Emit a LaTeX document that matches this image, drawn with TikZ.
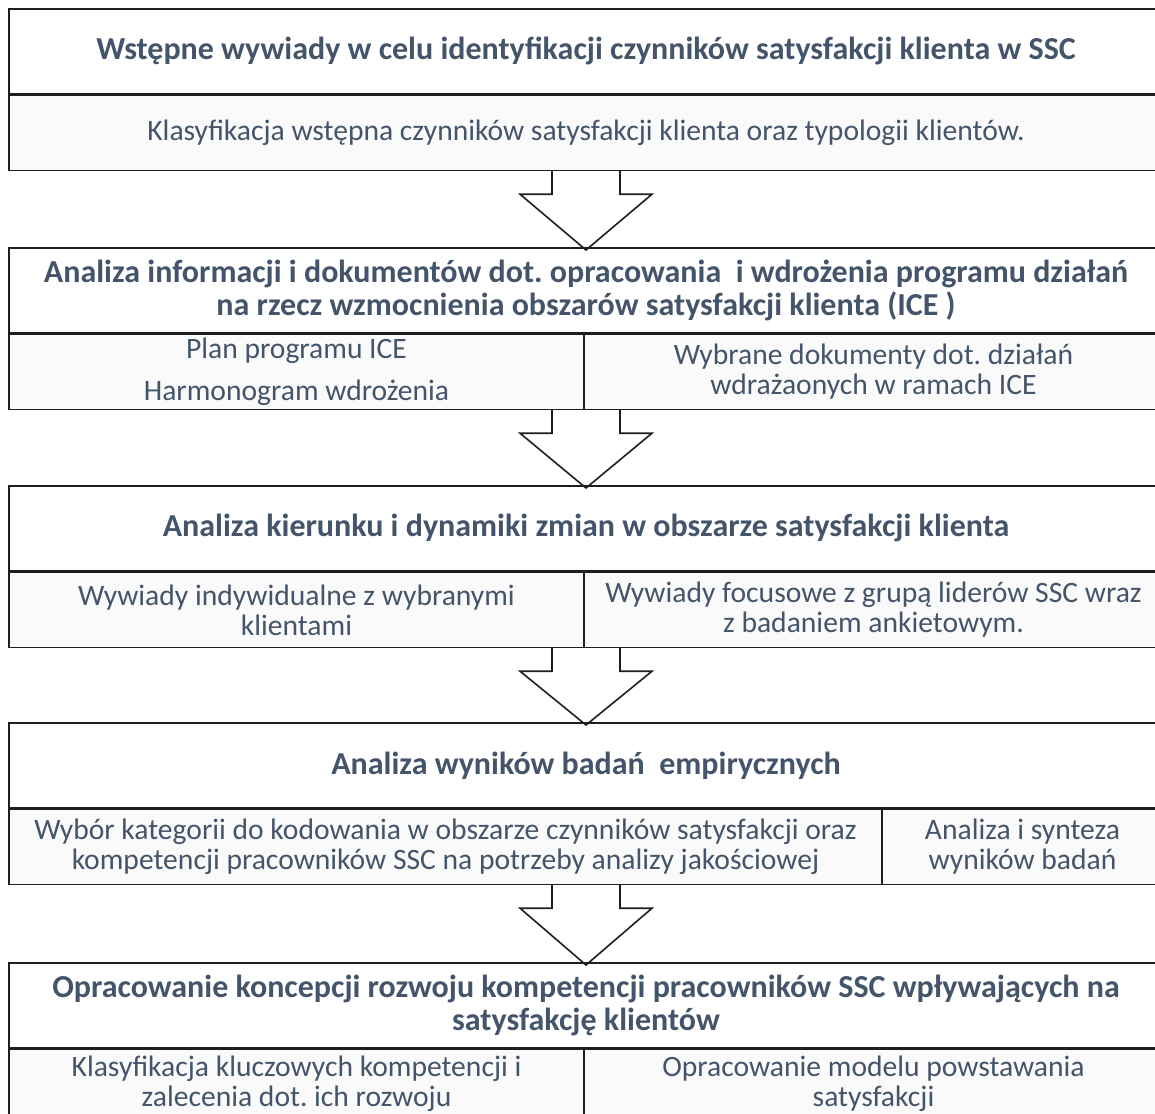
\documentclass[tikz,border=0pt]{standalone}
\usepackage{fontspec}
\setmainfont{Carlito}
\usetikzlibrary{calc}
\definecolor{txtslate}{RGB}{68,84,106}
\definecolor{rowgray}{RGB}{250,250,250}
\definecolor{edgeblack}{RGB}{30,30,30}
\frenchspacing

\tikzset{
  headbox/.style={draw=edgeblack, line width=1.6pt, minimum width=1154pt, minimum height=85pt,
    inner sep=0pt, align=center, text=txtslate, font=\fontsize{32}{33}\selectfont\bfseries},
  rowbox/.style={draw=edgeblack, line width=1.6pt, fill=rowgray, minimum height=75pt,
    inner sep=0pt, align=center, text=txtslate, font=\fontsize{29.6}{30}\selectfont},
  blockarrow/.style={draw=edgeblack, line width=1.6pt, line join=miter}
}

% block arrow from the bottom of one stage to the header of the next
\newcommand{\stagearrow}[2]{%
  \draw[blockarrow] ($(#1)+(-34,0)$) -- ++(0,23) -- ++(-32,0) -- ($(#2.north)+(0,3)$)
    -- ($(#1)+(66,23)$) -- ++(-32,0) -- ++(0,-23);}

\begin{document}
\begin{tikzpicture}[x=1pt, y=-1pt]
\useasboundingbox (0,0) rectangle (1155,1113);
\clip (0,0) rectangle (1155,1113);
% Stage 1
\node[headbox, anchor=north] (h1) at (586,8) {Wstępne wywiady w celu identyfikacji czynników satysfakcji klienta w SSC};
\node[rowbox, anchor=north, minimum width=1154pt] (r1) at (h1.south) {Klasyfikacja wstępna czynników satysfakcji klienta oraz typologii klientów.};
\coordinate (e1) at (r1.south);
% Stage 2
\node[headbox, anchor=north] (h2) at (586,247) {Analiza informacji i dokumentów dot. opracowania\ \ i wdrożenia programu działań\\na rzecz wzmocnienia obszarów satysfakcji klienta (ICE )};
\node[rowbox, anchor=north west, minimum width=575pt] (r2a) at (h2.south west) {Plan programu ICE\\[12pt]Harmonogram wdrożenia};
\node[rowbox, anchor=north east, minimum width=579pt] (r2b) at (h2.south east) {Wybrane dokumenty dot. działań\\wdrażaonych w ramach ICE};
\coordinate (e2) at (h2.south |- r2a.south);
% Stage 3
\node[headbox, anchor=north] (h3) at (586,485) {Analiza kierunku i dynamiki zmian w obszarze satysfakcji klienta};
\node[rowbox, anchor=north west, minimum width=575pt] (r3a) at (h3.south west) {Wywiady indywidualne z wybranymi\\klientami};
\node[rowbox, anchor=north east, minimum width=579pt] (r3b) at (h3.south east) {Wywiady focusowe z grupą liderów SSC wraz\\z badaniem ankietowym.};
\coordinate (e3) at (h3.south |- r3a.south);
% Stage 4
\node[headbox, anchor=north] (h4) at (586,722) {Analiza wyników badań\ \ empirycznych};
\node[rowbox, anchor=north west, minimum width=873pt] (r4a) at (h4.south west) {Wybór kategorii do kodowania w obszarze czynników satysfakcji oraz\\kompetencji pracowników SSC na potrzeby analizy jakościowej};
\node[rowbox, anchor=north east, minimum width=281pt] (r4b) at (h4.south east) {Analiza i synteza\\wyników badań};
\coordinate (e4) at (h4.south |- r4a.south);
% Stage 5
\node[headbox, anchor=north] (h5) at (586,962) {Opracowanie koncepcji rozwoju kompetencji pracowników SSC wpływających na\\satysfakcję klientów};
\node[rowbox, anchor=north west, minimum width=575pt, minimum height=68pt] (r5a) at (h5.south west) {Klasyfikacja kluczowych kompetencji i\\zalecenia dot. ich rozwoju};
\node[rowbox, anchor=north east, minimum width=579pt, minimum height=68pt] (r5b) at (h5.south east) {Opracowanie modelu powstawania\\satysfakcji};
% Arrows
\stagearrow{e1}{h2}
\stagearrow{e2}{h3}
\stagearrow{e3}{h4}
\stagearrow{e4}{h5}
\end{tikzpicture}
\end{document}
